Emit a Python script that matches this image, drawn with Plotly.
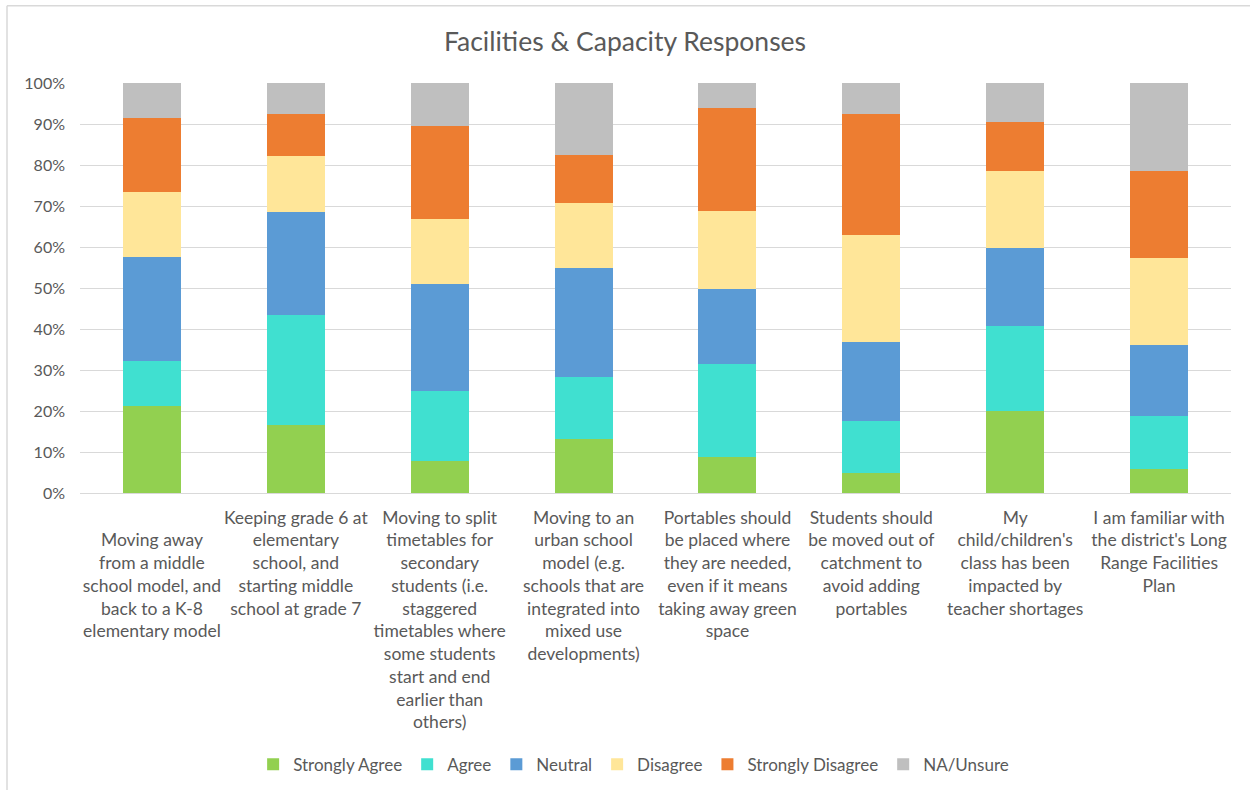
import plotly.graph_objects as go

categories = [
    " <br>Moving away<br>from a middle<br>school model, and<br>back to a K-8<br>elementary model",
    "Keeping grade 6 at<br>elementary<br>school, and<br>starting middle<br>school at grade 7",
    "Moving to split<br>timetables for<br>secondary<br>students (i.e.<br>staggered<br>timetables where<br>some students<br>start and end<br>earlier than<br>others)",
    "Moving to an<br>urban school<br>model (e.g.<br>schools that are<br>integrated into<br>mixed use<br>developments)",
    "Portables should<br>be placed where<br>they are needed,<br>even if it means<br>taking away green<br>space",
    "Students should<br>be moved out of<br>catchment to<br>avoid adding<br>portables",
    "My<br>child/children's<br>class has been<br>impacted by<br>teacher shortages",
    "I am familiar with<br>the district's Long<br>Range Facilities<br>Plan",
]

strongly_agree = [21.3, 16.6, 7.9, 13.1, 8.9, 4.8, 20.0, 5.9]
agree = [11.0, 26.9, 17.1, 15.3, 22.6, 12.8, 20.8, 13.0]
neutral = [25.3, 25.0, 26.0, 26.5, 18.3, 19.3, 19.0, 17.3]
disagree = [15.8, 13.8, 15.8, 15.8, 18.9, 26.0, 18.7, 21.1]
strongly_disagree = [18.1, 10.2, 22.8, 11.7, 25.2, 29.6, 12.0, 21.2]
na_unsure = [8.5, 7.5, 10.4, 17.6, 6.1, 7.5, 9.5, 21.5]

series = [
    ("Strongly Agree", strongly_agree, "#92D050"),
    ("Agree", agree, "#40E0D0"),
    ("Neutral", neutral, "#5B9BD5"),
    ("Disagree", disagree, "#FFE699"),
    ("Strongly Disagree", strongly_disagree, "#ED7D31"),
    ("NA/Unsure", na_unsure, "#BFBFBF"),
]

fig = go.Figure()
for name, vals, color in series:
    fig.add_trace(go.Bar(
        name=name, x=categories, y=[v / 100 for v in vals],
        marker=dict(color=color, line=dict(width=0)),
    ))

font_family = "Lato, 'Open Sans', sans-serif"
grey = "#595959"

fig.update_layout(
    barmode="stack",
    barnorm="fraction",
    bargap=0.597,
    width=1250, height=790,
    margin=dict(l=80, r=19, t=83, b=297, autoexpand=False),
    paper_bgcolor="white", plot_bgcolor="white",
    font=dict(family=font_family, color=grey, size=16),
    title=dict(text="Facilities & Capacity Responses", x=0.5, xanchor="center",
               y=1 - 42 / 790, yanchor="middle", font=dict(size=26.5, color=grey, family=font_family)),
    legend=dict(orientation="h", x=0.481, xanchor="center", y=(493.3 - 765) / 410, yanchor="middle",
                font=dict(size=17, color=grey), itemwidth=30, traceorder="normal",
                itemclick=False),
    showlegend=True,
    shapes=[
        dict(type="line", xref="paper", yref="paper", x0=(7 - 80) / 1151, x1=1.2,
             y0=(493.3 - 6) / 410, y1=(493.3 - 6) / 410, line=dict(color="#d9d9d9", width=1.5)),
        dict(type="line", xref="paper", yref="paper", x0=(7 - 80) / 1151, x1=(7 - 80) / 1151,
             y0=-1, y1=(493.3 - 6) / 410, line=dict(color="#d9d9d9", width=1.5)),
    ],
)

fig.update_yaxes(
    range=[0, 1], tickformat=".0%", dtick=0.1,
    showgrid=True, gridcolor="#d9d9d9", gridwidth=1,
    zeroline=True, zerolinecolor="#d9d9d9", zerolinewidth=1,
    showline=False, ticks="", ticklabelstandoff=14,
    tickfont=dict(size=16, color=grey),
)
fig.update_xaxes(
    showline=False, ticks="", ticklabelstandoff=12,
    tickfont=dict(size=17.5, color=grey), tickangle=0,
)

fig.write_html("out.html", config={"displayModeBar": False},
               post_script="document.body.style.margin='0';")
